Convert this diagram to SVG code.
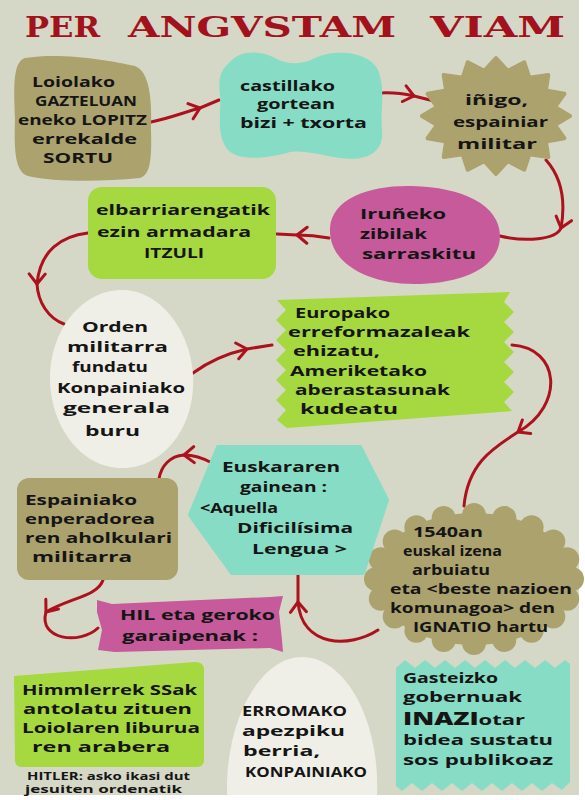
<svg xmlns="http://www.w3.org/2000/svg" width="585" height="800" viewBox="0 0 585 800">
<style>
.t{font-family:"Open Sans","DejaVu Sans",sans-serif;font-weight:700;font-size:15px;fill:#151515}
.s{font-size:10.5px}
.ttl{font-family:"DejaVu Serif","Liberation Serif",serif;font-weight:700;font-size:28px;fill:#a3111c}
.khaki{fill:#aca26d}
.teal{fill:#86dcc4}
.pink{fill:#c65a9b}
.lime{fill:#a6d93f}
.white{fill:#f0efe7}
.conn path{fill:none;stroke:#ad111e;stroke-width:3;stroke-linecap:round;marker-mid:url(#chev)}
</style>
<defs>
<marker id="chev" viewBox="-12 -10 14 20" markerWidth="14" markerHeight="20" markerUnits="userSpaceOnUse" orient="auto">
<path d="M-10,-8 L0,0 L-10,8" fill="none" stroke="#ad111e" stroke-width="3" stroke-linecap="round" stroke-linejoin="round"/>
</marker>
</defs>
<rect x="0" y="0" width="585" height="800" fill="#ffffff"/>
<rect x="0" y="0" width="579" height="795" fill="#d5d8c6"/>

<g id="title">
<text class="ttl" x="25" y="37" textLength="75" lengthAdjust="spacingAndGlyphs">PER</text>
<text class="ttl" x="128" y="37" textLength="268" lengthAdjust="spacingAndGlyphs">ANGVSTAM</text>
<text class="ttl" x="430" y="37" textLength="135" lengthAdjust="spacingAndGlyphs">VIAM</text>
</g>

<g class="conn" id="connectors">
<path d="M151,122 C170,118 185,112 200,108 L219,100"/>
<path d="M380,93 C395,92 405,94 414,96 L438,102"/>
<path d="M546,160 C562,178 566,200 561,228 C556,240 525,242 500,236"/>
<path d="M329,238 C318,236 310,235 297,235 L277,234"/>
<path d="M88,233 C62,236 40,250 37,284 C38,302 48,318 64,324"/>
<path d="M193,373 C208,362 225,354 247,349 L272,345"/>
<path d="M512,345 C560,348 565,405 518,432 C495,447 468,462 464,506"/>
<path d="M378,630 C350,648 302,648 298,602 L298,575"/>
<path d="M212,463 C203,458 194,455 184,455 C170,456 161,466 159,479"/>
<path d="M103,580 C98,596 70,598 46,612 C38,640 80,645 98,628"/>
</g>

<g id="n1">
<path class="khaki" d="M25,58 C60,52 110,60 135,66 C150,72 152,100 151,130 C152,160 150,175 140,178 C100,182 55,182 28,176 C15,172 14,150 15,120 C14,90 12,62 25,58 Z"/>
<text class="t" x="32" y="87" textLength="83" lengthAdjust="spacingAndGlyphs">Loiolako</text>
<text class="t" x="35" y="106" textLength="102" lengthAdjust="spacingAndGlyphs">GAZTELUAN</text>
<text class="t" x="18" y="125" textLength="129" lengthAdjust="spacingAndGlyphs">eneko LOPITZ</text>
<text class="t" x="32" y="144" textLength="105" lengthAdjust="spacingAndGlyphs">errekalde</text>
<text class="t" x="43" y="163" textLength="70" lengthAdjust="spacingAndGlyphs">SORTU</text>
</g>

<g id="n2">
<path class="teal" d="M230,62 C240,50 260,50 275,58 C285,64 300,66 315,58 C335,48 370,52 378,70 C386,90 380,110 382,130 C384,150 370,162 340,158 C320,155 305,150 290,152 C270,158 240,162 228,150 C215,135 222,110 220,95 C218,80 220,70 230,62 Z"/>
<text class="t" x="240" y="91" textLength="95" lengthAdjust="spacingAndGlyphs">castillako</text>
<text class="t" x="257" y="109" textLength="78" lengthAdjust="spacingAndGlyphs">gortean</text>
<text class="t" x="240" y="128" textLength="127" lengthAdjust="spacingAndGlyphs">bizi + txorta</text>
</g>

<g id="n3">
<polygon class="khaki" stroke="#aca26d" stroke-width="4" stroke-linejoin="round" points="570,116 554.9,125 564.4,138.2 545.9,141.6 548.3,157 529.4,154.2 524.3,169.6 507.7,161.1 496,174 484.3,161.1 467.7,169.6 462.6,154.2 443.7,157 446.1,141.6 427.6,138.2 437.1,125 422,116 437.1,107 427.6,93.8 446.1,90.4 443.7,75 462.6,77.8 467.7,62.4 484.3,70.9 496,58 507.7,70.9 524.3,62.4 529.4,77.8 548.3,75 545.9,90.4 564.4,93.8 554.9,107"/>
<text class="t" x="465" y="105" textLength="63" lengthAdjust="spacingAndGlyphs">iñigo,</text>
<text class="t" x="453" y="127" textLength="95" lengthAdjust="spacingAndGlyphs">espainiar</text>
<text class="t" x="457" y="149" textLength="80" lengthAdjust="spacingAndGlyphs">militar</text>
</g>

<g id="n4">
<path class="pink" d="M330,228 C332,198 370,185 412,186 C462,187 500,205 500,236 C500,268 462,284 414,284 C366,284 328,262 330,228 Z"/>
<text class="t" x="360" y="219" textLength="86" lengthAdjust="spacingAndGlyphs">Iruñeko</text>
<text class="t" x="360" y="239" textLength="67" lengthAdjust="spacingAndGlyphs">zibilak</text>
<text class="t" x="362" y="259" textLength="114" lengthAdjust="spacingAndGlyphs">sarraskitu</text>
</g>

<g id="n5">
<rect class="lime" x="88" y="187" width="188" height="92" rx="14"/>
<text class="t" x="96" y="215" textLength="174" lengthAdjust="spacingAndGlyphs">elbarriarengatik</text>
<text class="t" x="97" y="237" textLength="154" lengthAdjust="spacingAndGlyphs">ezin armadara</text>
<text class="t" x="144" y="258" textLength="60" lengthAdjust="spacingAndGlyphs">ITZULI</text>
</g>

<g id="n6">
<path class="white" d="M122,290 C160,290 190,330 193,375 C196,425 165,468 122,468 C80,468 50,425 50,378 C50,330 82,290 122,290 Z"/>
<text class="t" x="82" y="332" textLength="66" lengthAdjust="spacingAndGlyphs">Orden</text>
<text class="t" x="67" y="352" textLength="101" lengthAdjust="spacingAndGlyphs">militarra</text>
<text class="t" x="72" y="372" textLength="76" lengthAdjust="spacingAndGlyphs">fundatu</text>
<text class="t" x="57" y="393" textLength="128" lengthAdjust="spacingAndGlyphs">Konpainiako</text>
<text class="t" x="63" y="413" textLength="107" lengthAdjust="spacingAndGlyphs">generala</text>
<text class="t" x="85" y="436" textLength="55" lengthAdjust="spacingAndGlyphs">buru</text>
</g>

<g id="n7">
<path class="lime" d="M277,300 L510,292 L504,302 L514,312 L504,322 L514,332 L504,342 L514,352 L504,362 L514,372 L504,382 L514,392 L504,402 L512,411 L287,428 L277,420 L286,410 L276,400 L286,390 L276,380 L286,370 L276,360 L286,350 L276,340 L286,330 L276,320 L286,310 Z"/>
<text class="t" x="295" y="318" textLength="95" lengthAdjust="spacingAndGlyphs">Europako</text>
<text class="t" x="288" y="337" textLength="182" lengthAdjust="spacingAndGlyphs">erreformazaleak</text>
<text class="t" x="293" y="356" textLength="87" lengthAdjust="spacingAndGlyphs">ehizatu,</text>
<text class="t" x="290" y="376" textLength="137" lengthAdjust="spacingAndGlyphs">Ameriketako</text>
<text class="t" x="295" y="395" textLength="155" lengthAdjust="spacingAndGlyphs">aberastasunak</text>
<text class="t" x="300" y="414" textLength="98" lengthAdjust="spacingAndGlyphs">kudeatu</text>
</g>

<g id="n8" class="khaki">
<ellipse cx="474" cy="579" rx="100" ry="66"/>
<circle cx="572" cy="579" r="12"/><circle cx="567.2" cy="598.8" r="12"/><circle cx="553.3" cy="616.6" r="12"/><circle cx="531.6" cy="630.8" r="12"/><circle cx="504.3" cy="639.9" r="12"/><circle cx="474" cy="643" r="12"/><circle cx="443.7" cy="639.9" r="12"/><circle cx="416.4" cy="630.8" r="12"/><circle cx="394.7" cy="616.6" r="12"/><circle cx="380.8" cy="598.8" r="12"/><circle cx="376" cy="579" r="12"/><circle cx="380.8" cy="559.2" r="12"/><circle cx="394.7" cy="541.4" r="12"/><circle cx="416.4" cy="527.2" r="12"/><circle cx="443.7" cy="518.1" r="12"/><circle cx="474" cy="515" r="12"/><circle cx="504.3" cy="518.1" r="12"/><circle cx="531.6" cy="527.2" r="12"/><circle cx="553.3" cy="541.4" r="12"/><circle cx="567.2" cy="559.2" r="12"/>
<text class="t" x="413" y="537" textLength="70" lengthAdjust="spacingAndGlyphs">1540an</text>
<text class="t" x="403" y="556" textLength="99" lengthAdjust="spacingAndGlyphs">euskal izena</text>
<text class="t" x="412" y="575" textLength="78" lengthAdjust="spacingAndGlyphs">arbuiatu</text>
<text class="t" x="390" y="594" textLength="182" lengthAdjust="spacingAndGlyphs">eta &lt;beste nazioen</text>
<text class="t" x="390" y="613" textLength="165" lengthAdjust="spacingAndGlyphs">komunagoa&gt; den</text>
<text class="t" x="413" y="632" textLength="135" lengthAdjust="spacingAndGlyphs">IGNATIO hartu</text>
</g>

<g id="n9">
<polygon class="teal" stroke="#86dcc4" stroke-width="4" stroke-linejoin="round" points="190,515 218,447 360,447 387,500 363,573 232,573"/>
<text class="t" x="222" y="472" textLength="118" lengthAdjust="spacingAndGlyphs">Euskararen</text>
<text class="t" x="240" y="492" textLength="87" lengthAdjust="spacingAndGlyphs">gainean :</text>
<text class="t" x="200" y="513" textLength="78" lengthAdjust="spacingAndGlyphs">&lt;Aquella</text>
<text class="t" x="237" y="533" textLength="116" lengthAdjust="spacingAndGlyphs">Dificilísima</text>
<text class="t" x="252" y="554" textLength="95" lengthAdjust="spacingAndGlyphs">Lengua &gt;</text>
</g>

<g id="n10">
<rect class="khaki" x="17" y="478" width="161" height="102" rx="12"/>
<text class="t" x="25" y="505" textLength="112" lengthAdjust="spacingAndGlyphs">Espainiako</text>
<text class="t" x="25" y="524" textLength="130" lengthAdjust="spacingAndGlyphs">enperadorea</text>
<text class="t" x="25" y="543" textLength="147" lengthAdjust="spacingAndGlyphs">ren aholkulari</text>
<text class="t" x="32" y="562" textLength="100" lengthAdjust="spacingAndGlyphs">militarra</text>
</g>

<g id="n11">
<path class="pink" d="M97,600 L112,604 L270,597 L283,596 L279,612 L282,640 L283,652 L270,648 L115,652 L98,650 L102,630 L97,612 Z"/>
<text class="t" x="120" y="620" textLength="155" lengthAdjust="spacingAndGlyphs">HIL eta geroko</text>
<text class="t" x="122" y="641" textLength="136" lengthAdjust="spacingAndGlyphs">garaipenak :</text>
</g>

<g id="n12">
<path class="lime" d="M14,676 L195,662 Q205,662 204,672 L204,760 Q204,767 196,767 L22,767 Q15,767 15,760 Z"/>
<text class="t" x="22" y="695" textLength="175" lengthAdjust="spacingAndGlyphs">Himmlerrek SSak</text>
<text class="t" x="23" y="714" textLength="169" lengthAdjust="spacingAndGlyphs">antolatu zituen</text>
<text class="t" x="22" y="733" textLength="178" lengthAdjust="spacingAndGlyphs">Loiolaren liburua</text>
<text class="t" x="32" y="752" textLength="138" lengthAdjust="spacingAndGlyphs">ren arabera</text>
</g>

<g id="note">
<text class="t s" x="27" y="780" textLength="163" lengthAdjust="spacingAndGlyphs">HITLER: asko ikasi dut</text>
<text class="t s" x="25" y="793" textLength="157" lengthAdjust="spacingAndGlyphs">jesuiten ordenatik</text>
</g>

<g id="n13">
<path class="white" d="M227,795 C225,720 260,657 302,657 C345,657 380,720 377,795 Z"/>
<text class="t" x="242" y="716" textLength="105" lengthAdjust="spacingAndGlyphs">ERROMAKO</text>
<text class="t" x="242" y="736" textLength="103" lengthAdjust="spacingAndGlyphs">apezpiku</text>
<text class="t" x="243" y="756" textLength="77" lengthAdjust="spacingAndGlyphs">berria,</text>
<text class="t" x="245" y="777" textLength="122" lengthAdjust="spacingAndGlyphs">KONPAINIAKO</text>
</g>

<g id="n14">
<path class="teal" d="M396,668 L405,660 L415,668 L425,660 L435,668 L445,660 L455,668 L465,660 L475,668 L485,660 L495,668 L505,660 L515,668 L525,660 L535,668 L545,660 L555,668 L565,660 L570,664 L570,782 L562,790 L552,783 L542,791 L532,783 L522,791 L512,783 L502,791 L492,783 L482,791 L472,783 L462,791 L452,783 L442,791 L432,783 L422,791 L412,783 L402,791 L396,786 Z"/>
<text class="t" x="403" y="683" textLength="95" lengthAdjust="spacingAndGlyphs">Gasteizko</text>
<text class="t" x="403" y="702" textLength="119" lengthAdjust="spacingAndGlyphs">gobernuak</text>
<text class="t" x="403" y="725" textLength="122" lengthAdjust="spacingAndGlyphs"><tspan font-size="18" font-weight="900">INAZI</tspan>otar</text>
<text class="t" x="403" y="745" textLength="150" lengthAdjust="spacingAndGlyphs">bidea sustatu</text>
<text class="t" x="403" y="765" textLength="150" lengthAdjust="spacingAndGlyphs">sos publikoaz</text>
</g>
</svg>
